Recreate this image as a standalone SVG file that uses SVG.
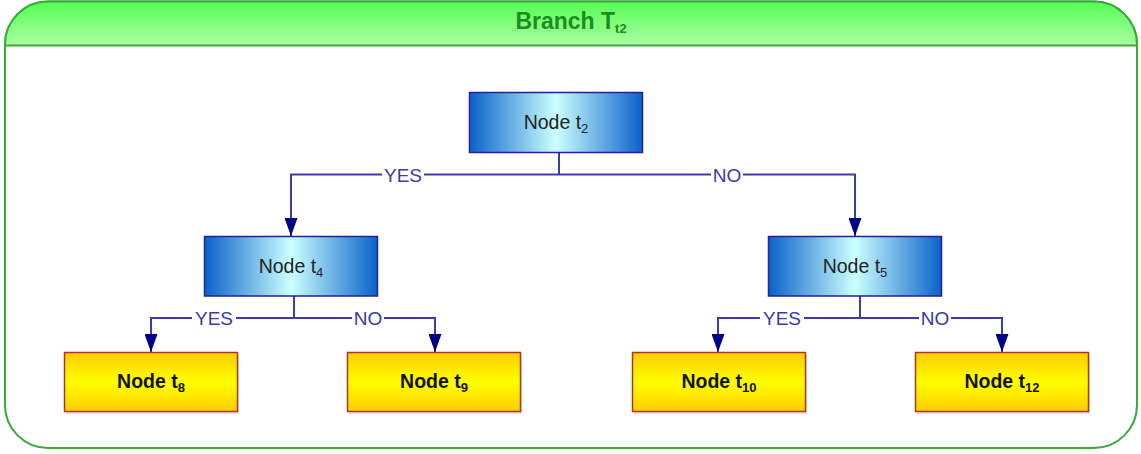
<svg xmlns="http://www.w3.org/2000/svg" width="1141" height="454" viewBox="0 0 1141 454">
  <defs>
    <linearGradient id="hdr" x1="0" y1="0" x2="0" y2="1">
      <stop offset="0" stop-color="#55ff55"/>
      <stop offset="1" stop-color="#aaffa2"/>
    </linearGradient>
    <linearGradient id="blue" x1="0" y1="0" x2="1" y2="0">
      <stop offset="0" stop-color="#0a62c8"/>
      <stop offset="0.5" stop-color="#ccffff"/>
      <stop offset="1" stop-color="#0a62c8"/>
    </linearGradient>
    <linearGradient id="gold" x1="0" y1="0" x2="0" y2="1">
      <stop offset="0" stop-color="#ffcc00"/>
      <stop offset="0.5" stop-color="#ffff00"/>
      <stop offset="1" stop-color="#ffcc00"/>
    </linearGradient>
    <marker id="arrow" viewBox="0 0 18 13" refX="18" refY="6.5" markerWidth="18" markerHeight="13" markerUnits="userSpaceOnUse" orient="auto">
      <path d="M0,0 L18,6.5 L0,13 z" fill="#000088"/>
    </marker>
    <style>
      .frame { fill: #ffffff; stroke: #3aaa3a; stroke-width: 2; }
      .header { fill: url(#hdr); stroke: #3aaa3a; stroke-width: 2; }
      .title { font-family: "Liberation Sans", Arial, sans-serif; font-weight: bold; font-size: 23px; fill: #1e8c1e; text-anchor: middle; }
      .bnode { fill: url(#blue); stroke: #222299; stroke-width: 1.5; }
      .ynode { fill: url(#gold); stroke: #a83a22; stroke-width: 1.5; }
      .shadow { fill: #e8c4c4; opacity: 0.6; }
      .btext { font-family: "Liberation Sans", Arial, sans-serif; font-size: 19.5px; fill: #222222; text-anchor: middle; }
      .ytext { font-family: "Liberation Sans", Arial, sans-serif; font-weight: bold; font-size: 19.5px; fill: #111111; text-anchor: middle; }
      .sub { font-size: 13px; }
      .wire { fill: none; stroke: #3c3ca8; stroke-width: 2; }
      .lbl { font-family: "Liberation Sans", Arial, sans-serif; font-size: 19px; fill: #3a3aa8; text-anchor: middle; }
    </style>
  </defs>

  <!-- container frame with header band -->
  <g id="branch">
    <rect class="frame" x="5" y="1.5" width="1132" height="446.5" rx="43" ry="43"/>
    <path class="header" d="M5,45.5 L5,44.5 A43,43 0 0 1 48,1.5 L1094,1.5 A43,43 0 0 1 1137,44.5 L1137,45.5 Z"/>
    <text class="title" x="571" y="29">Branch T<tspan class="sub" font-size="15" dy="4">t2</tspan></text>
  </g>

  <!-- connectors -->
  <g id="connectors">
    <!-- t2 -> t4 / t5 -->
    <path class="wire" d="M559,153 V174.5"/>
    <path class="wire" d="M559,174.5 H424"/>
    <path class="wire" d="M382,174.5 H291 V236" marker-end="url(#arrow)"/>
    <path class="wire" d="M559,174.5 H711"/>
    <path class="wire" d="M743,174.5 H855 V236" marker-end="url(#arrow)"/>
    <text class="lbl" x="403" y="181.5">YES</text>
    <text class="lbl" x="727" y="181.5">NO</text>

    <!-- t4 -> t8 / t9 -->
    <path class="wire" d="M294,296 V318"/>
    <path class="wire" d="M294,318 H236"/>
    <path class="wire" d="M192,318 H151 V352" marker-end="url(#arrow)"/>
    <path class="wire" d="M294,318 H352"/>
    <path class="wire" d="M384,318 H435 V352" marker-end="url(#arrow)"/>
    <text class="lbl" x="214" y="325">YES</text>
    <text class="lbl" x="368" y="325">NO</text>

    <!-- t5 -> t10 / t12 -->
    <path class="wire" d="M860,296 V318"/>
    <path class="wire" d="M860,318 H804"/>
    <path class="wire" d="M760,318 H718 V352" marker-end="url(#arrow)"/>
    <path class="wire" d="M860,318 H919"/>
    <path class="wire" d="M951,318 H1002 V352" marker-end="url(#arrow)"/>
    <text class="lbl" x="782" y="325">YES</text>
    <text class="lbl" x="935" y="325">NO</text>
  </g>

  <!-- decision nodes -->
  <g id="node-t2">
    <rect class="bnode" x="469.5" y="92.5" width="173" height="60"/>
    <text class="btext" x="556" y="129">Node t<tspan class="sub" dy="4">2</tspan></text>
  </g>
  <g id="node-t4">
    <rect class="bnode" x="204.5" y="236.5" width="173" height="59.5"/>
    <text class="btext" x="291" y="273">Node t<tspan class="sub" dy="4">4</tspan></text>
  </g>
  <g id="node-t5">
    <rect class="bnode" x="768.5" y="236.5" width="173" height="59.5"/>
    <text class="btext" x="855" y="273">Node t<tspan class="sub" dy="4">5</tspan></text>
  </g>

  <!-- leaf nodes -->
  <g id="node-t8">
    <rect class="shadow" x="66" y="355" width="173" height="59"/>
    <rect class="ynode" x="64.5" y="352.5" width="173" height="59"/>
    <text class="ytext" x="151" y="388">Node t<tspan class="sub" dy="4">8</tspan></text>
  </g>
  <g id="node-t9">
    <rect class="shadow" x="349" y="355" width="173" height="59"/>
    <rect class="ynode" x="347.5" y="352.5" width="173" height="59"/>
    <text class="ytext" x="434" y="388">Node t<tspan class="sub" dy="4">9</tspan></text>
  </g>
  <g id="node-t10">
    <rect class="shadow" x="634" y="355" width="173" height="59"/>
    <rect class="ynode" x="632.5" y="352.5" width="173" height="59"/>
    <text class="ytext" x="719" y="388">Node t<tspan class="sub" dy="4">10</tspan></text>
  </g>
  <g id="node-t12">
    <rect class="shadow" x="917" y="355" width="173" height="59"/>
    <rect class="ynode" x="915.5" y="352.5" width="173" height="59"/>
    <text class="ytext" x="1002" y="388">Node t<tspan class="sub" dy="4">12</tspan></text>
  </g>
</svg>
